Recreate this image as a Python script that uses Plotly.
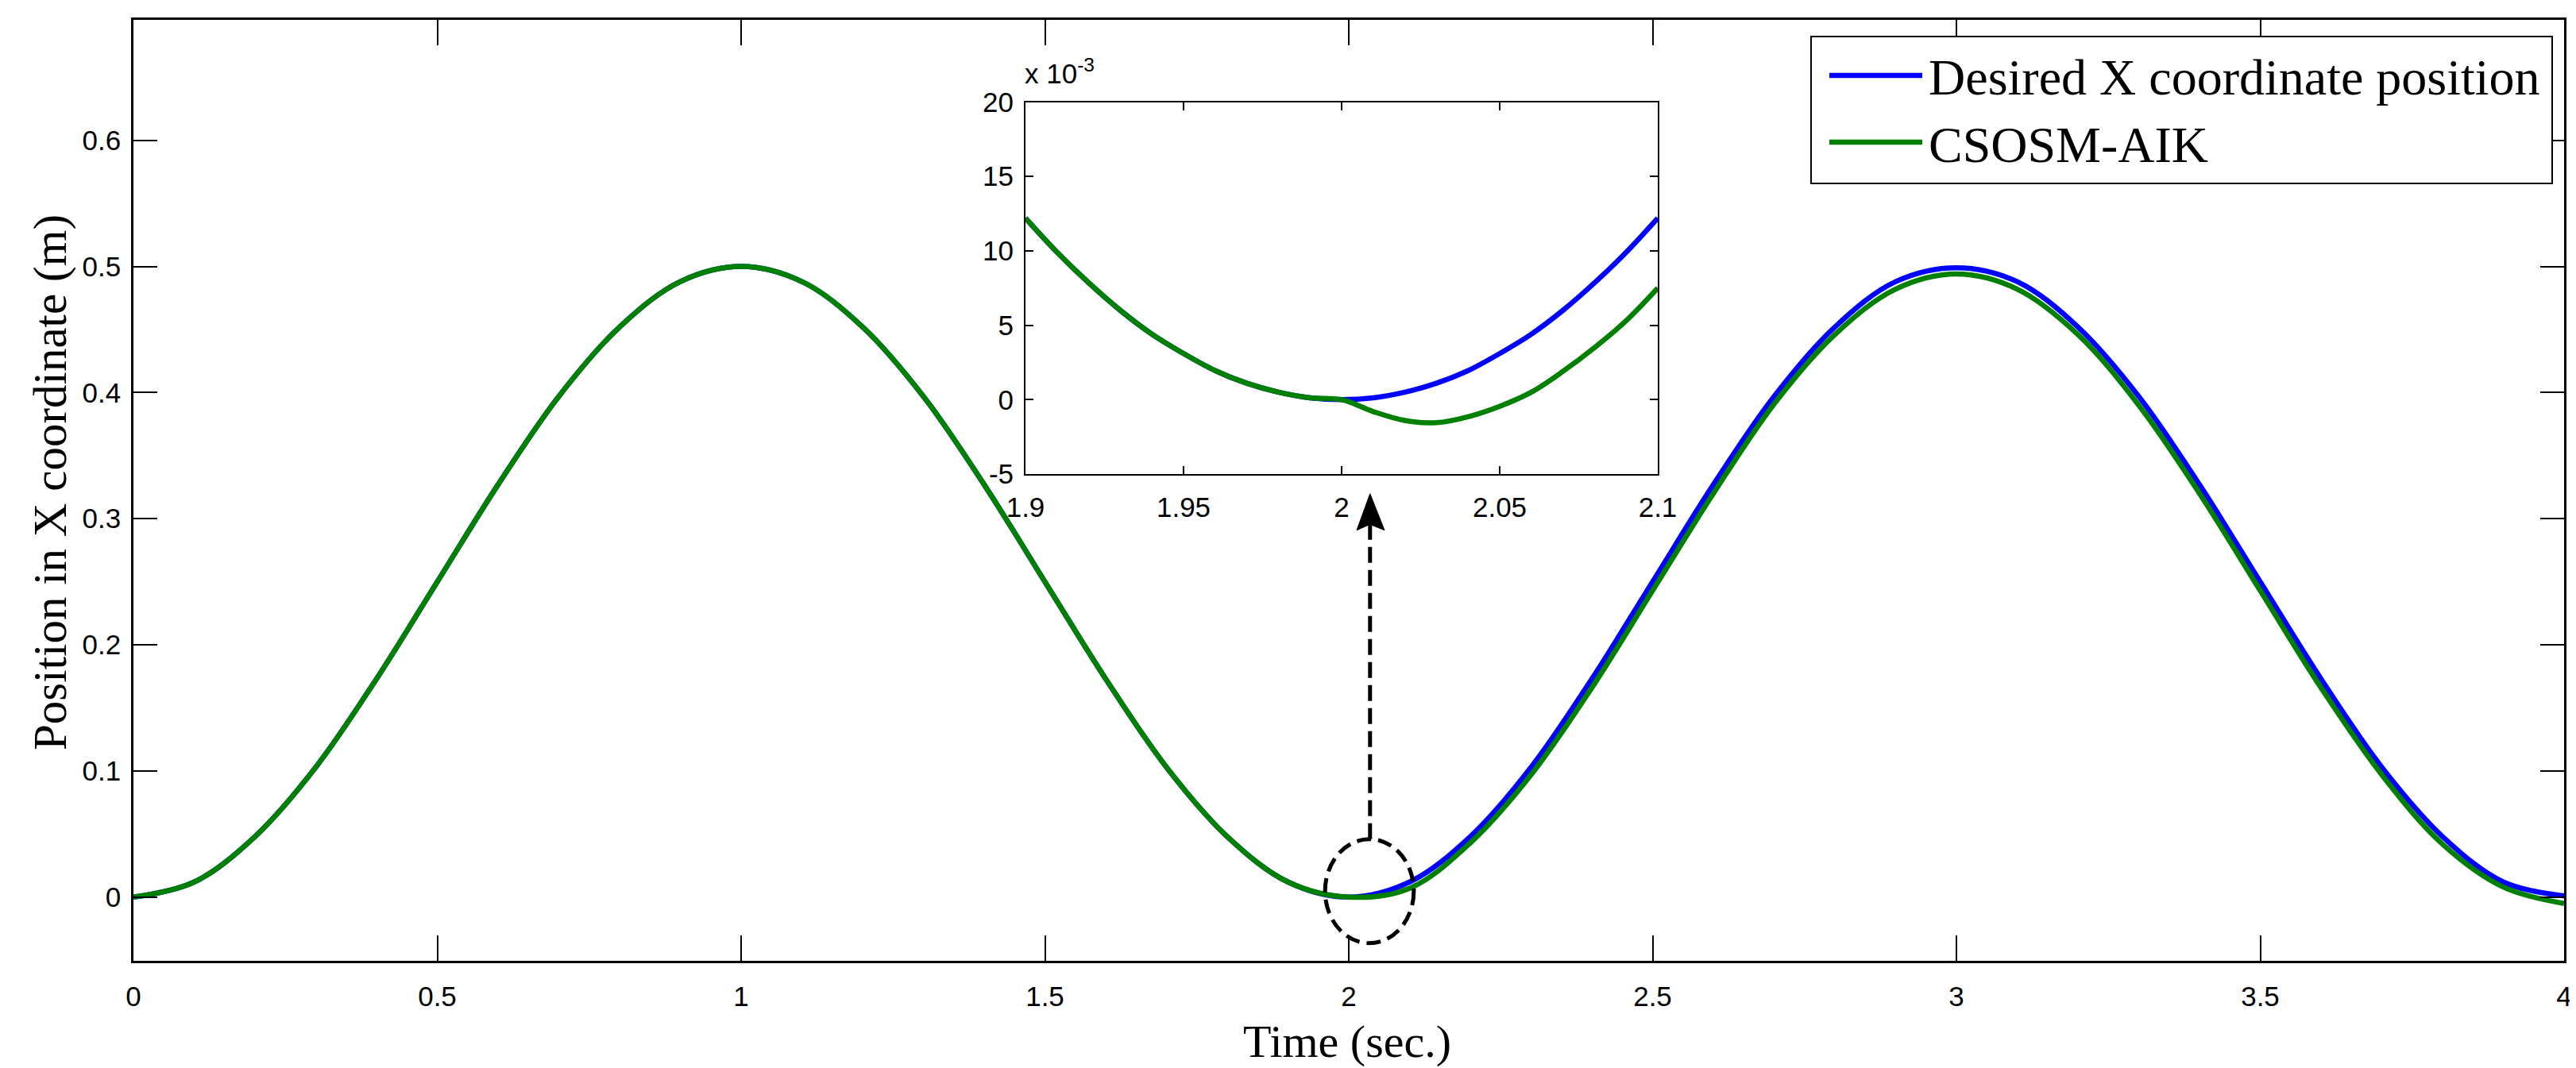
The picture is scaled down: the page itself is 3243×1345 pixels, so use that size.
"""Position in X coordinate: desired trajectory against the CSOSM-AIK response,
with a zoomed inset around t = 2 s.
"""
import plotly.graph_objects as go

FIG_W = 3243
FIG_H = 1345

###############################################################################
# Data
###############################################################################
TIME = [0.0, 0.1, 0.2, 0.3, 0.4, 0.5, 0.6, 0.7, 0.8, 0.9,
        1.0, 1.1, 1.2, 1.3, 1.4, 1.5, 1.6, 1.7, 1.8, 1.9,
        2.0, 2.1, 2.2, 2.3, 2.4, 2.5, 2.6, 2.7, 2.8, 2.9,
        3.0, 3.1, 3.2, 3.3, 3.4, 3.5, 3.6, 3.7, 3.8, 3.9, 4.0]

DESIRED_X = [0.000, 0.012, 0.048, 0.103, 0.173, 0.250, 0.327, 0.397, 0.452, 0.488,
             0.500, 0.488, 0.452, 0.397, 0.327, 0.250, 0.173, 0.103, 0.048, 0.012,
             0.000, 0.012, 0.048, 0.103, 0.173, 0.250, 0.327, 0.397, 0.452, 0.488,
             0.499, 0.488, 0.452, 0.397, 0.327, 0.250, 0.173, 0.103, 0.048, 0.012, 0.001]

CSOSM_X = [0.000, 0.012, 0.048, 0.103, 0.173, 0.250, 0.327, 0.397, 0.452, 0.488,
           0.500, 0.488, 0.452, 0.397, 0.327, 0.250, 0.173, 0.103, 0.048, 0.012,
           0.000, 0.007, 0.043, 0.097, 0.166, 0.243, 0.320, 0.391, 0.446, 0.482,
           0.494, 0.482, 0.446, 0.390, 0.320, 0.243, 0.166, 0.097, 0.042, 0.008, -0.005]

# inset, values in units of 10^-3 m
ZOOM_TIME = [1.90, 1.91, 1.92, 1.93, 1.94, 1.95, 1.96, 1.97, 1.98, 1.99, 2.00,
             2.01, 2.02, 2.03, 2.04, 2.05, 2.06, 2.07, 2.08, 2.09, 2.10]
ZOOM_DESIRED = [12.2, 9.9, 7.85, 6.0, 4.4, 3.1, 1.95, 1.1, 0.5, 0.12, 0.0,
                0.12, 0.5, 1.1, 1.95, 3.1, 4.4, 6.0, 7.85, 9.9, 12.2]
ZOOM_CSOSM = [12.2, 9.9, 7.85, 6.0, 4.4, 3.1, 1.95, 1.1, 0.5, 0.12, 0.0,
              -0.8, -1.4, -1.55, -1.15, -0.45, 0.5, 1.9, 3.5, 5.3, 7.5]

X_TICKS = [0, 0.5, 1, 1.5, 2, 2.5, 3, 3.5, 4]
X_TICK_TEXT = ['0', '0.5', '1', '1.5', '2', '2.5', '3', '3.5', '4']
Y_TICKS = [0, 0.1, 0.2, 0.3, 0.4, 0.5, 0.6]
Y_TICK_TEXT = ['0', '0.1', '0.2', '0.3', '0.4', '0.5', '0.6']

ZOOM_X_TICKS = [1.9, 1.95, 2.0, 2.05, 2.1]
ZOOM_X_TICK_TEXT = ['1.9', '1.95', '2', '2.05', '2.1']
ZOOM_Y_TICKS = [-5, 0, 5, 10, 15, 20]
ZOOM_Y_TICK_TEXT = ['-5', '0', '5', '10', '15', '20']

NAMES = ['Desired X coordinate position', 'CSOSM-AIK']
COLOURS = ['#0000ff', '#008000']

SERIF = 'Liberation Serif, Times New Roman, serif'
SANS = 'Liberation Sans, Arial, sans-serif'
TICK_SIZE = 35


###############################################################################
# Helpers
###############################################################################
def px_x(px: float) -> float:
    """Return the paper x coordinate of a pixel column."""
    return px / FIG_W


def px_y(py: float) -> float:
    """Return the paper y coordinate of a pixel row (measured from the top)."""
    return 1 - py / FIG_H


def axis_style(ticklen: int, linewidth: float) -> dict:
    """Return a MATLAB-like boxed axis style."""
    return dict(showline=True, linecolor='black', linewidth=linewidth, mirror='allticks',
                ticks='inside', ticklen=ticklen, tickwidth=1.5, tickcolor='black',
                showgrid=False, zeroline=False,
                tickfont=dict(family=SANS, size=TICK_SIZE, color='black'))


###############################################################################
# Figure
###############################################################################
fig = go.Figure()

fig.add_trace(go.Scatter(x=TIME, y=DESIRED_X, name=NAMES[0], mode='lines',
                         line=dict(color=COLOURS[0], width=6.5, shape='spline'),
                         xaxis='x', yaxis='y'))
fig.add_trace(go.Scatter(x=TIME, y=CSOSM_X, name=NAMES[1], mode='lines',
                         line=dict(color=COLOURS[1], width=6.5, shape='spline'),
                         xaxis='x', yaxis='y'))
fig.add_trace(go.Scatter(x=ZOOM_TIME, y=ZOOM_DESIRED, name=NAMES[0], mode='lines',
                         line=dict(color=COLOURS[0], width=6.5, shape='spline'),
                         xaxis='x2', yaxis='y2'))
fig.add_trace(go.Scatter(x=ZOOM_TIME, y=ZOOM_CSOSM, name=NAMES[1], mode='lines',
                         line=dict(color=COLOURS[1], width=6.5, shape='spline'),
                         xaxis='x2', yaxis='y2'))

fig.update_layout(
    width=FIG_W, height=FIG_H,
    margin=dict(l=0, r=0, t=0, b=0, autoexpand=False),
    paper_bgcolor='white', plot_bgcolor='white',
    showlegend=False,
    xaxis=dict(domain=[px_x(160), px_x(3220)], range=[0, 4], anchor='y',
               tickvals=X_TICKS, ticktext=X_TICK_TEXT, ticklabelstandoff=12,
               **axis_style(32, 2.5)),
    yaxis=dict(domain=[px_y(1202), px_y(17)], range=[-0.0505, 0.6955], anchor='x',
               tickvals=Y_TICKS, ticktext=Y_TICK_TEXT, ticklabelstandoff=6,
               **axis_style(30, 2.5)),
    xaxis2=dict(domain=[px_x(1283), px_x(2079)], range=[1.9, 2.1], anchor='y2',
                tickvals=ZOOM_X_TICKS, ticktext=ZOOM_X_TICK_TEXT, ticklabelstandoff=10,
                **axis_style(10, 2)),
    yaxis2=dict(domain=[px_y(589), px_y(120.5)], range=[-5, 20], anchor='x2',
                tickvals=ZOOM_Y_TICKS, ticktext=ZOOM_Y_TICK_TEXT, ticklabelstandoff=6,
                **axis_style(10, 2)),
)

# dashed ellipse around the zoomed region and the dashed arrow up to the inset
fig.add_shape(type='circle', xref='x', yref='y', x0=1.961, x1=2.107, y0=-0.0365, y1=0.046,
              line=dict(color='black', width=5, dash='18px,9px'))
fig.add_shape(type='line', xref='x', yref='y', x0=2.035, x1=2.035, y0=0.046, y1=0.296,
              line=dict(color='black', width=5, dash='20px,9px'))
fig.add_shape(type='path', xref='x', yref='y',
              path='M 2.035 0.3198 L 2.0131 0.2909 L 2.035 0.2955 L 2.0588 0.2909 Z',
              fillcolor='black', line=dict(color='black', width=1))

# legend box drawn by hand so the line samples match the long MATLAB ones
fig.add_shape(type='rect', xref='paper', yref='paper',
              x0=px_x(2272), x1=px_x(3205), y0=px_y(223), y1=px_y(38),
              fillcolor='white', line=dict(color='black', width=2), layer='above')
for i, y_px in enumerate([87, 171]):
    fig.add_shape(type='line', xref='paper', yref='paper',
                  x0=px_x(2295), x1=px_x(2412), y0=px_y(y_px), y1=px_y(y_px),
                  line=dict(color=COLOURS[i], width=6.5), layer='above')
    fig.add_annotation(xref='paper', yref='paper', x=px_x(2418), y=px_y(y_px + 3),
                       xanchor='left', yanchor='middle', showarrow=False, text=NAMES[i],
                       font=dict(family=SERIF, size=64, color='black'))

# axis titles
fig.add_annotation(xref='paper', yref='paper', x=px_x(1688), y=px_y(1303),
                   xanchor='center', yanchor='middle', showarrow=False, text='Time (sec.)',
                   font=dict(family=SERIF, size=58, color='black'))
fig.add_annotation(xref='paper', yref='paper', x=px_x(55), y=px_y(600),
                   xanchor='center', yanchor='middle', showarrow=False, textangle=-90,
                   text='Position in X coordinate (m)',
                   font=dict(family=SERIF, size=59, color='black'))

# exponent label of the inset y axis
fig.add_annotation(xref='paper', yref='paper', x=px_x(1280), y=px_y(106),
                   xanchor='left', yanchor='bottom', showarrow=False,
                   text='x 10<sup>-3</sup>',
                   font=dict(family=SANS, size=TICK_SIZE, color='black'))

fig.write_html("out.html")
